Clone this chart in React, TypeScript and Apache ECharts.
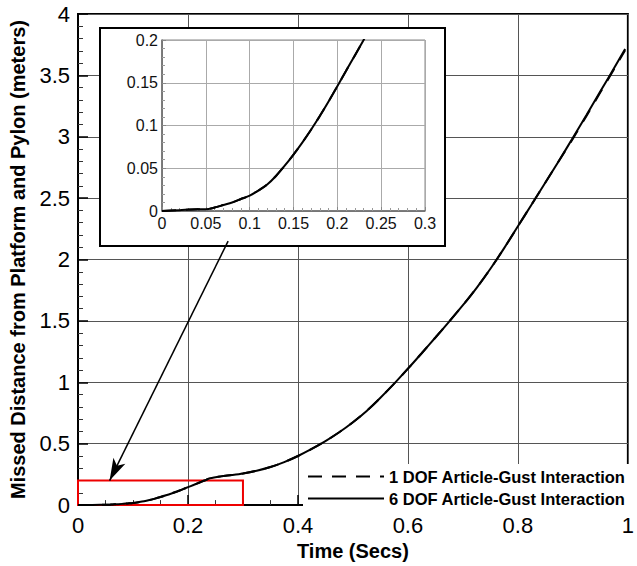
import React, { useEffect, useRef } from "react";
import * as echarts from "echarts";

const timeSecs = [0, 0.02, 0.04, 0.05, 0.06, 0.07, 0.08, 0.09, 0.1, 0.11, 0.12, 0.13, 0.14, 0.15, 0.16, 0.17, 0.18, 0.19, 0.2, 0.21, 0.22, 0.23, 0.24, 0.26, 0.28, 0.3, 0.325, 0.35, 0.375, 0.4, 0.425, 0.45, 0.475, 0.5, 0.525, 0.55, 0.575, 0.6, 0.625, 0.65, 0.675, 0.7, 0.725, 0.75, 0.775, 0.8, 0.825, 0.85, 0.875, 0.9, 0.925, 0.95, 0.975, 0.995];
const dof6 = [0, 0.001, 0.002, 0.002, 0.004, 0.007, 0.01, 0.014, 0.018, 0.024, 0.031, 0.041, 0.053, 0.066, 0.08, 0.095, 0.111, 0.128, 0.146, 0.164, 0.182, 0.2, 0.218, 0.234, 0.245, 0.258, 0.28, 0.31, 0.35, 0.4, 0.457, 0.521, 0.593, 0.675, 0.767, 0.874, 0.989, 1.111, 1.237, 1.365, 1.495, 1.628, 1.77, 1.925, 2.093, 2.271, 2.449, 2.627, 2.807, 2.992, 3.18, 3.37, 3.56, 3.715];
const dof1 = [0, 0.001, 0.002, 0.002, 0.004, 0.007, 0.01, 0.014, 0.018, 0.024, 0.031, 0.041, 0.053, 0.066, 0.08, 0.095, 0.111, 0.128, 0.146, 0.164, 0.182, 0.2, 0.218, 0.234, 0.245, 0.258, 0.28, 0.31, 0.35, 0.4, 0.457, 0.521, 0.593, 0.675, 0.767, 0.874, 0.989, 1.111, 1.237, 1.365, 1.495, 1.628, 1.77, 1.925, 2.093, 2.271, 2.449, 2.627, 2.807, 2.985, 3.172, 3.362, 3.552, 3.705];

const seriesNames = ["1 DOF Article-Gust Interaction", "6 DOF Article-Gust Interaction"];
const zoomBox = [[0, 0], [0.3, 0.2]];
const arrowFrom = [0.273, 2.15];
const arrowTo = [0.0575, 0.2];

const FONT = "'Liberation Sans', Arial, Helvetica, sans-serif";

export default function App() {
  const ref = useRef<HTMLDivElement>(null);
  useEffect(() => {
    document.body.style.margin = "0";
    const chart = echarts.init(ref.current!, null, { renderer: "svg" });
    const pts1 = timeSecs.map((t, i) => [t, dof1[i]]);
    const pts6 = timeSecs.map((t, i) => [t, dof6[i]]);
    const mainAxisCommon = {
      axisLine: { show: true, lineStyle: { color: "#000", width: 2 } },
      axisTick: { show: true, inside: true, length: 10, lineStyle: { color: "#000", width: 1.5 } },
      minorTick: { show: true, length: 5, lineStyle: { color: "#333", width: 1 } },
      splitLine: { show: true, lineStyle: { color: "#555", width: 1 } },
      axisLabel: { color: "#000", fontSize: 22, fontFamily: FONT },
      nameTextStyle: { color: "#000", fontSize: 20, fontWeight: "bold", fontFamily: FONT },
      z: 0,
    };
    const insetAxisCommon = {
      axisLine: { show: true, lineStyle: { color: "#666", width: 1.5 } },
      axisTick: { show: true, inside: true, length: 4, lineStyle: { color: "#888", width: 1 } },
      minorTick: { show: true, length: 3, lineStyle: { color: "#999", width: 1 } },
      splitLine: { show: true, lineStyle: { color: "#aaa", width: 1 } },
      axisLabel: { color: "#111", fontSize: 16, fontFamily: FONT, margin: 4 },
      z: 6,
    };
    const lineCommon = { type: "line", symbol: "none", smooth: 0.3 };
    chart.setOption({
      animation: false,
      backgroundColor: "#fff",
      grid: [
        { left: 78, top: 14, width: 557, height: 501, show: true, borderColor: "#000", borderWidth: 2, z: 0 },
        { left: 162, top: 40, width: 263, height: 171, show: true, borderColor: "#888", borderWidth: 1, z: 6 },
      ],
      xAxis: [
        {
          ...mainAxisCommon, type: "value", gridIndex: 0, min: 0, max: 1, interval: 0.2, minorTick: { ...mainAxisCommon.minorTick, splitNumber: 4 },
          axisLabel: { ...mainAxisCommon.axisLabel, margin: 9 },
          name: "Time (Secs)", nameLocation: "middle", nameGap: 28,
        },
        {
          ...insetAxisCommon, type: "value", gridIndex: 1, min: 0, max: 0.3, interval: 0.05, minorTick: { ...insetAxisCommon.minorTick, splitNumber: 5 },
        },
      ],
      yAxis: [
        {
          ...mainAxisCommon, type: "value", gridIndex: 0, min: 0, max: 4, interval: 0.5, minorTick: { ...mainAxisCommon.minorTick, splitNumber: 5 },
          axisLabel: { ...mainAxisCommon.axisLabel, margin: 8 },
          name: "Missed Distance from Platform and Pylon (meters)", nameLocation: "middle", nameGap: 50,
        },
        {
          ...insetAxisCommon, type: "value", gridIndex: 1, min: 0, max: 0.2, interval: 0.05, minorTick: { ...insetAxisCommon.minorTick, splitNumber: 5 },
        },
      ],
      legend: {
        orient: "vertical",
        left: 303,
        top: 464,
        width: 330,
        itemWidth: 76,
        itemHeight: 13,
        itemGap: 5,
        padding: [4, 6, 4, 4],
        backgroundColor: "#fff",
        itemStyle: { opacity: 0 },
        textStyle: { color: "#000", fontSize: 16.5, fontWeight: "bold", fontFamily: FONT },
        data: seriesNames,
        selectedMode: false,
      },
      graphic: [
        {
          type: "rect",
          z: 5,
          shape: { x: 100, y: 28, width: 345, height: 218 },
          style: { fill: "#fff", stroke: "#000", lineWidth: 2 },
        },
      ],
      series: [
        {
          ...lineCommon, name: seriesNames[0], xAxisIndex: 0, yAxisIndex: 0, data: pts1, z: 2,
          lineStyle: { color: "#000", width: 2, type: [14, 10] },
          itemStyle: { color: "#000" },
        },
        {
          ...lineCommon, name: seriesNames[1], xAxisIndex: 0, yAxisIndex: 0, data: pts6, z: 3,
          lineStyle: { color: "#000", width: 2 },
          itemStyle: { color: "#000" },
          markArea: {
            silent: true,
            itemStyle: { color: "rgba(0,0,0,0)", borderColor: "#e00", borderWidth: 2 },
            data: [[{ coord: zoomBox[0] }, { coord: zoomBox[1] }]],
          },
          markLine: {
            silent: true,
            symbol: ["none", "arrow"],
            symbolSize: [10, 22],
            label: { show: false },
            lineStyle: { color: "#000", width: 1.5, type: "solid" },
            data: [[{ coord: arrowFrom }, { coord: arrowTo }]],
          },
        },
        {
          ...lineCommon, name: seriesNames[0], xAxisIndex: 1, yAxisIndex: 1, data: pts1, z: 7,
          lineStyle: { color: "#000", width: 2, type: [14, 10] },
          itemStyle: { color: "#000" },
        },
        {
          ...lineCommon, name: seriesNames[1], xAxisIndex: 1, yAxisIndex: 1, data: pts6, z: 8,
          lineStyle: { color: "#000", width: 2 },
          itemStyle: { color: "#000" },
        },
      ],
    });
    return () => chart.dispose();
  }, []);
  return <div ref={ref} style={{ width: 637, height: 566 }} />;
}
